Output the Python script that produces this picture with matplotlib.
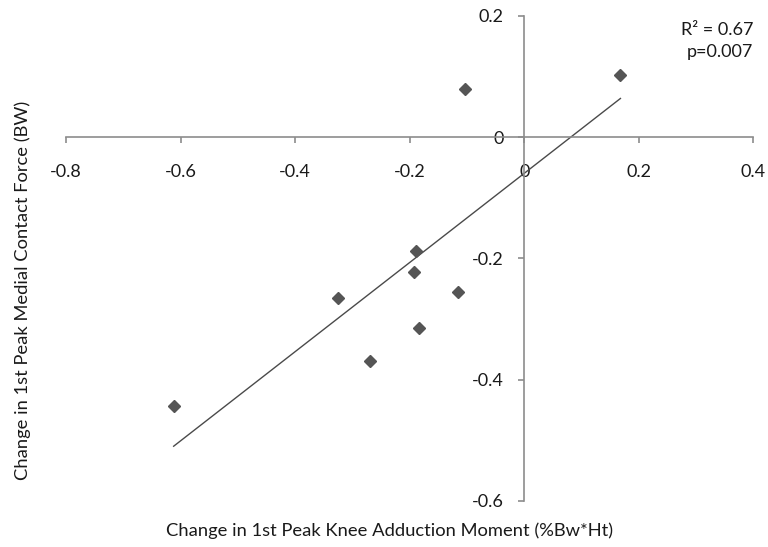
import numpy as np
import matplotlib
matplotlib.use("Agg")
import matplotlib.pyplot as plt

# change in 1st peak knee adduction moment (%Bw*Ht) vs change in medial contact force (BW)
kam_change = [0.168, -0.103, -0.189, -0.192, -0.116, -0.325, -0.184, -0.270, -0.612]
mcf_change = [0.103, 0.079, -0.188, -0.223, -0.256, -0.266, -0.315, -0.370, -0.443]
x_ticks = [-0.8, -0.6, -0.4, -0.2, 0, 0.2, 0.4]
y_ticks = [-0.6, -0.4, -0.2, 0, 0.2]
stats_text = "R\u00b2 = 0.67\np=0.007"

plt.rcParams['font.family'] = ['Lato', 'DejaVu Sans']
plt.rcParams['axes.unicode_minus'] = False

fig = plt.figure(figsize=(7.68, 5.47), dpi=100)
ax = fig.add_axes([0.0859, 0.0846, 0.895, 0.8862])

x = np.array(kam_change)
y = np.array(mcf_change)
ax.plot(x, y, 'D', color='#555555', markersize=6.5, zorder=3)

# linear trend line over the data range
slope, icept = np.polyfit(x, y, 1)
xl = np.array([x.min(), x.max()])
ax.plot(xl, slope * xl + icept, color='#4a4a4a', lw=1.0, zorder=2)

ax.set_xlim(-0.8, 0.4)
ax.set_ylim(-0.6, 0.2)
ax.set_xticks(x_ticks)
ax.set_yticks(y_ticks)
ax.set_xticklabels(['{:g}'.format(v) for v in x_ticks])
ax.set_yticklabels(['{:g}'.format(v) for v in y_ticks])

for s in ['top', 'right']:
    ax.spines[s].set_visible(False)
for s in ['left', 'bottom']:
    ax.spines[s].set_position(('data', 0))
    ax.spines[s].set_color('#8c8c8c')
    ax.spines[s].set_linewidth(1.2)

ax.tick_params(axis='x', direction='out', length=4, width=1.2, color='#8c8c8c',
               labelsize=13, pad=15, labelcolor='#1a1a1a')
ax.tick_params(axis='y', direction='out', length=4, width=1.2, color='#8c8c8c',
               labelsize=13, pad=11, labelcolor='#1a1a1a')

ax.text(0.4, 0.19, stats_text, ha='right', va='top', fontsize=13,
        color='#1a1a1a', linespacing=1.45)

fig.text(0.507, 0.030, "Change in 1st Peak Knee Adduction Moment (%Bw*Ht)",
         ha='center', va='center', fontsize=13.2, color='#1a1a1a')
fig.text(0.030, 0.470, "Change in 1st Peak Medial Contact Force (BW)",
         ha='center', va='center', rotation=90, fontsize=13.2, color='#1a1a1a')

fig.savefig("out.png", dpi=100)
